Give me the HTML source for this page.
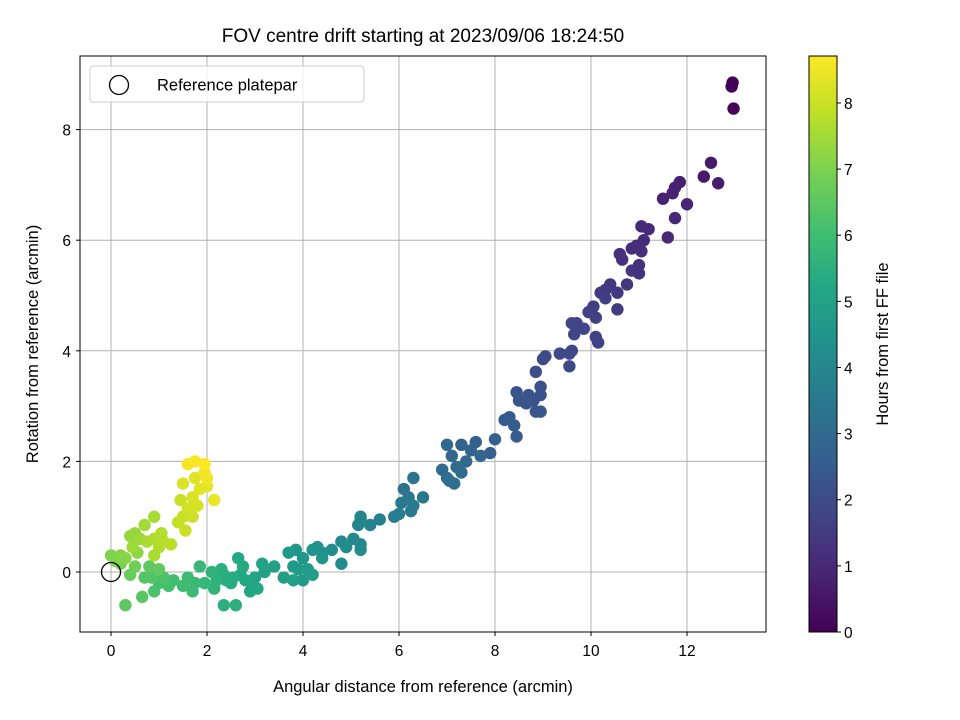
<!DOCTYPE html>
<html><head><meta charset="utf-8"><style>
html,body{margin:0;padding:0;background:#fff}
svg{display:block;font-family:"Liberation Sans","DejaVu Sans",sans-serif}
</style></head><body>
<svg id="chart" width="960" height="720" viewBox="0 0 960 720">
<defs>
<linearGradient id="vir" x1="0" y1="1" x2="0" y2="0">
<stop offset="0" stop-color="#440154"/><stop offset="0.1" stop-color="#482475"/><stop offset="0.2" stop-color="#414487"/><stop offset="0.3" stop-color="#355f8d"/><stop offset="0.4" stop-color="#2a788e"/><stop offset="0.5" stop-color="#21918c"/><stop offset="0.6" stop-color="#22a884"/><stop offset="0.7" stop-color="#44bf70"/><stop offset="0.8" stop-color="#7ad151"/><stop offset="0.9" stop-color="#bddf26"/><stop offset="1" stop-color="#fde725"/>
</linearGradient>
<clipPath id="pc"><rect x="80" y="56" width="686" height="576"/></clipPath>
</defs>
<text x="423" y="42" text-anchor="middle" font-size="19">FOV centre drift starting at 2023/09/06 18:24:50</text>
<g id="grid"></g>
<g id="pts" clip-path="url(#pc)"></g>
<circle cx="111" cy="572" r="9.5" fill="none" stroke="#000" stroke-width="1.3"/>
<rect x="80" y="56" width="686" height="576" fill="none" stroke="#000" stroke-width="1"/>
<g id="ticks" font-size="15.5"></g>
<text x="423" y="692" text-anchor="middle" font-size="16.5">Angular distance from reference (arcmin)</text>
<text transform="translate(38,344) rotate(-90)" text-anchor="middle" font-size="16.5">Rotation from reference (arcmin)</text>
<g>
<rect x="90" y="66" width="274" height="36" rx="3" fill="#fff" fill-opacity="0.8" stroke="#ccc"/>
<circle cx="119" cy="85" r="9.5" fill="none" stroke="#000" stroke-width="1.3"/>
<text x="157" y="90.5" font-size="16.5">Reference platepar</text>
</g>
<rect x="809" y="56" width="28" height="576" fill="url(#vir)" stroke="#000" stroke-width="1"/>
<g id="cbticks" font-size="15.5"></g>
<text transform="translate(888,344) rotate(-90)" text-anchor="middle" font-size="16.5">Hours from first FF file</text>
</svg>
<script>
const xTicks=[0,2,4,6,8,10,12];
const yTicks=[0,2,4,6,8];
const cTicks=[0,1,2,3,4,5,6,7,8];
const xs=[12.95,12.93,12.97,12.5,12.35,12.65,11.85,11.75,11.7,11.5,12.0,11.75,11.6,11.05,11.2,11.1,10.95,10.85,10.6,10.65,11.05,11.0,10.85,11.0,10.75,10.4,10.3,10.55,10.2,10.3,10.55,10.05,10.1,9.95,10.1,10.15,9.7,9.85,9.6,9.65,9.6,9.55,9.35,9.05,9.0,9.55,8.85,8.95,8.95,8.7,8.8,8.45,8.5,8.65,8.85,8.95,8.3,8.2,8.4,8.45,8.0,7.9,7.6,7.3,7.5,7.7,7.1,7.4,7.0,7.2,6.9,7.3,7.0,7.15,7.05,6.3,6.1,6.2,6.5,6.05,6.3,6.25,5.9,6.0,5.6,5.4,5.2,5.15,5.2,5.05,5.2,5.2,4.8,4.9,4.6,4.4,4.3,4.2,4.4,4.8,4.0,3.85,3.7,3.8,3.9,4.0,4.1,4.2,3.6,3.8,3.4,3.2,3.15,3.0,2.9,2.95,3.05,2.8,2.7,2.65,2.55,2.5,2.4,2.35,2.3,2.6,2.35,2.75,2.2,2.1,2.15,1.95,1.85,1.75,1.7,1.6,1.5,1.3,1.2,1.0,0.9,0.85,1.1,0.7,0.65,0.3,0.8,1.0,0.4,0.5,0.2,0.1,0.0,0.2,0.3,0.55,0.4,0.5,0.6,0.45,0.7,0.9,0.75,0.9,1.0,0.9,1.1,1.25,1.05,1.4,1.5,1.45,1.7,1.6,1.55,1.8,1.7,1.5,1.75,1.85,2.0,2.15,1.95,2.0,1.6,1.75,1.95];
const ys=[8.85,8.78,8.38,7.4,7.15,7.03,7.05,6.95,6.85,6.75,6.65,6.4,6.05,6.25,6.2,6.0,5.9,5.85,5.75,5.65,5.8,5.55,5.45,5.4,5.2,5.2,5.1,5.05,5.05,4.95,4.75,4.8,4.6,4.7,4.25,4.15,4.5,4.4,4.5,4.3,4.0,3.95,3.95,3.9,3.85,3.72,3.62,3.35,3.2,3.2,3.1,3.25,3.1,3.05,2.9,2.9,2.8,2.75,2.65,2.45,2.4,2.15,2.35,2.3,2.2,2.1,2.1,2.0,2.3,1.9,1.85,1.8,1.7,1.6,1.65,1.7,1.5,1.35,1.35,1.25,1.2,1.1,1.0,1.05,0.95,0.85,0.95,0.85,1.0,0.6,0.5,0.4,0.55,0.45,0.4,0.35,0.45,0.4,0.25,0.15,0.25,0.4,0.35,0.1,0.05,-0.15,0.05,-0.05,-0.1,-0.15,0.1,0.0,0.15,-0.1,-0.35,-0.2,-0.3,-0.15,-0.05,0.25,-0.1,-0.2,-0.15,-0.05,0.05,-0.6,-0.6,0.1,-0.15,0.0,-0.3,-0.2,0.1,-0.2,-0.35,-0.1,-0.25,-0.15,-0.25,-0.2,-0.35,-0.1,-0.1,-0.1,-0.45,-0.6,0.1,0.05,-0.05,0.1,0.15,0.2,0.3,0.3,0.25,0.35,0.65,0.7,0.6,0.45,0.85,1.0,0.55,0.6,0.45,0.3,0.55,0.5,0.7,0.9,1.0,1.3,1.0,1.15,0.75,1.2,1.35,1.6,1.7,1.5,1.55,1.3,1.8,1.7,1.95,2.0,1.95];
const hours=[0.02,0.03,0.08,0.6,0.65,0.7,0.75,0.8,0.82,0.85,0.9,0.95,1.0,1.05,1.07,1.1,1.12,1.15,1.2,1.22,1.18,1.25,1.3,1.32,1.38,1.4,1.45,1.42,1.5,1.55,1.5,1.6,1.62,1.65,1.68,1.72,1.75,1.78,1.8,1.82,1.85,1.9,1.93,1.98,2.0,1.95,2.05,2.1,2.15,2.2,2.22,2.25,2.28,2.3,2.35,2.38,2.42,2.45,2.48,2.55,2.6,2.65,2.7,2.75,2.8,2.85,2.9,2.92,2.95,3.0,3.02,3.05,3.1,3.15,3.2,3.3,3.35,3.4,3.45,3.5,3.55,3.6,3.65,3.7,3.8,3.85,3.9,3.95,3.92,4.0,4.05,4.1,4.15,4.2,4.3,4.35,4.4,4.45,4.5,4.25,4.55,4.6,4.65,4.7,4.72,4.75,4.78,4.8,4.85,4.88,4.9,4.95,5.0,5.05,5.1,5.12,5.15,5.2,5.22,5.25,5.3,5.32,5.35,5.4,5.45,5.5,5.48,5.28,5.55,5.6,5.65,5.75,5.8,5.85,5.9,5.95,6.0,6.05,6.1,6.15,6.2,6.3,6.25,6.35,6.45,6.5,6.55,6.6,6.7,6.8,6.9,7.0,7.05,7.1,7.15,7.2,7.3,7.35,7.4,7.45,7.5,7.55,7.6,7.65,7.7,7.6,7.75,7.8,7.72,7.9,7.95,8.0,8.05,8.1,8.0,8.15,8.2,8.25,8.3,8.35,8.4,8.45,8.5,8.55,8.6,8.65,8.7];
const X=v=>111+v*48, Y=v=>572-v*55.3, HMAX=8.71, CY=v=>632-v*(576/HMAX);
const vir=[[68,1,84],[72,36,117],[65,68,135],[53,95,141],[42,120,142],[33,145,140],[34,168,132],[68,191,112],[122,209,81],[189,223,38],[253,231,37]];
function cmap(h){let t=Math.max(0,Math.min(1,h/HMAX))*10,i=Math.min(9,Math.floor(t)),f=t-i;const a=vir[i],b=vir[i+1];return 'rgb('+a.map((c,k)=>Math.round(c+(b[k]-c)*f)).join(',')+')';}
const NS='http://www.w3.org/2000/svg';
function mk(tag,attrs,parent){const e=document.createElementNS(NS,tag);for(const k in attrs)e.setAttribute(k,attrs[k]);parent.appendChild(e);return e;}
const grid=document.getElementById('grid'),ticks=document.getElementById('ticks'),pts=document.getElementById('pts'),cb=document.getElementById('cbticks');
xTicks.forEach(v=>{
const g=mk('line',{x1:X(v),x2:X(v),y1:56,y2:632,stroke:'#b0b0b0','stroke-width':1},grid);


mk('line',{x1:X(v),x2:X(v),y1:632,y2:636,stroke:'#000'},ticks);
const t=mk('text',{x:X(v),y:656,'text-anchor':'middle'},ticks);t.textContent=v;


});
yTicks.forEach(v=>{
const g=mk('line',{x1:80,x2:766,y1:Y(v),y2:Y(v),stroke:'#b0b0b0','stroke-width':1},grid);


mk('line',{x1:76,x2:80,y1:Y(v),y2:Y(v),stroke:'#000'},ticks);
const t=mk('text',{x:71,y:Y(v)+6,'text-anchor':'end'},ticks);t.textContent=v;


});
xs.forEach((x,i)=>{
const c=mk('circle',{cx:X(x),cy:Y(ys[i]),r:6.2,fill:cmap(hours[i])},pts);


});
cTicks.forEach(v=>{
mk('line',{x1:837,x2:841,y1:CY(v),y2:CY(v),stroke:'#000'},cb);
const t=mk('text',{x:844,y:CY(v)+6},cb);t.textContent=v;


});
</script>
</body></html>
